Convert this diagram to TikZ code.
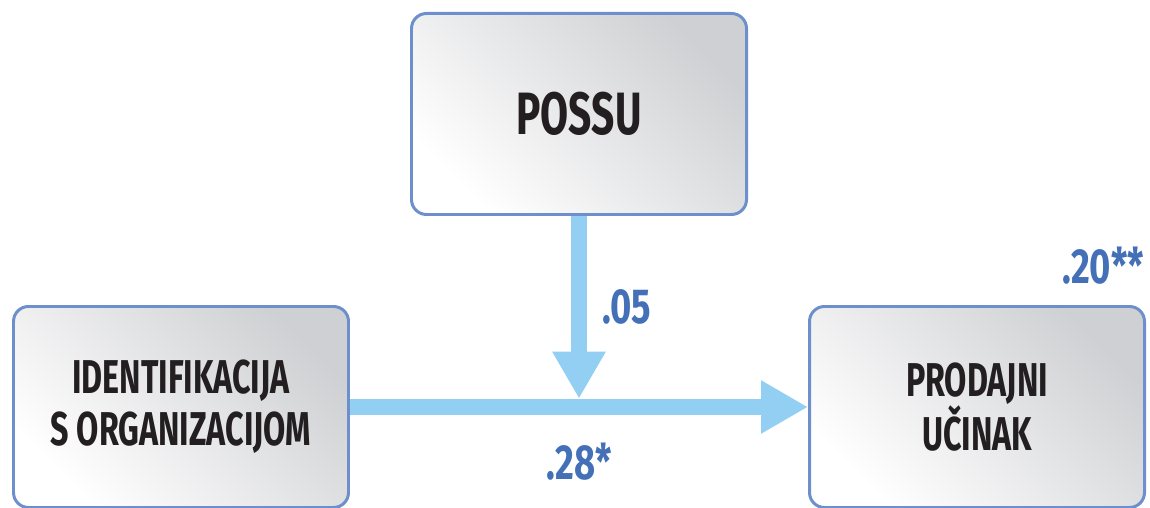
\documentclass[tikz,border=0pt]{standalone}
\usepackage{fontspec}
\setmainfont{Fira Sans}
\newfontfamily\condfont{Fira Sans}[FakeStretch=0.68]
\newfontfamily\numfont{Fira Sans}[FakeStretch=0.74]
\usepackage{xcolor}
\definecolor{bxblue}{HTML}{6D8FCB}
\definecolor{arrblue}{HTML}{92CFF3}
\definecolor{cfblue}{HTML}{4470B8}
\definecolor{bxgray}{HTML}{CFD0D3}
\definecolor{txtblack}{HTML}{231F20}
\usetikzlibrary{arrows.meta,positioning,backgrounds}
\begin{document}
\begin{tikzpicture}[
  construct/.style={rectangle,rounded corners=0.3cm,draw=bxblue,line width=1.7pt,
                    top color=bxgray,bottom color=white,shading angle=-45,
                    minimum width=6.7cm,minimum height=4.02cm,align=center,
                    text=txtblack,font=\condfont\bfseries\fontsize{27}{29.6}\selectfont},
  link/.style={-{Triangle[length=0.94cm,width=1cm]},line width=0.33cm,arrblue},
  coef/.style={inner sep=0pt,text=cfblue,
               font=\numfont\bfseries\fontsize{28}{32}\selectfont}]
\useasboundingbox (0,0) rectangle (23,10.16);
\node[construct,font=\condfont\bfseries\fontsize{34}{38}\selectfont] (possu) at (11.58,7.88) {POSSU};
\node[construct] (ident) at (3.62,2.02) {IDENTIFIKACIJA\\S ORGANIZACIJOM};
\node[construct] (prod) at (19.54,2.02) {PRODAJNI\\UČINAK};
\coordinate (meet) at (11.6,2.185);
\begin{scope}[on background layer]
\draw[link] (ident) -- node[coef,below=0.55cm] (c28) {.28*} (prod);
\draw[link] (possu.south) -- node[coef,right=0.3cm] (c05) {.05} (possu.south |- meet);
\end{scope}
\node[coef,above left=0.4cm and 0.03cm of prod.north east] (c20) {.20**};
\end{tikzpicture}
\end{document}
